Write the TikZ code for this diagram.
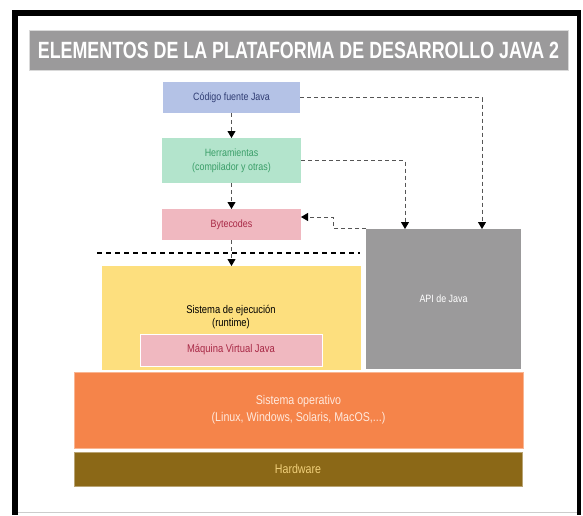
\documentclass[tikz,border=0pt]{standalone}
\usepackage{fontspec}
\setmainfont{Liberation Sans}[FakeStretch=0.84]
\newfontfamily\titlefont{Liberation Sans Bold}[FakeStretch=0.76]
\usetikzlibrary{arrows.meta}
\definecolor{blueF}{HTML}{B4C2E6}
\definecolor{blueT}{HTML}{2F3C73}
\definecolor{greenF}{HTML}{B3E4CC}
\definecolor{greenT}{HTML}{3A9E68}
\definecolor{pinkF}{HTML}{F0B8C0}
\definecolor{pinkT}{HTML}{A82845}
\definecolor{yellowF}{HTML}{FDDF7E}
\definecolor{grayF}{HTML}{9B9A9B}
\definecolor{orangeF}{HTML}{F5844A}
\definecolor{orangeT}{HTML}{FFE9DD}
\definecolor{brownF}{HTML}{8B6817}
\definecolor{brownT}{HTML}{F0CF7A}
\definecolor{lineC}{HTML}{555555}
\tikzset{
  box/.style={anchor=north west, inner sep=0pt, outer sep=0pt, align=center, font=\fontsize{10.6}{14}\selectfont},
  bigtext/.style={font=\fontsize{12.7}{17}\selectfont},
  dsh/.style={draw=lineC, line width=0.9pt, dash pattern=on 4pt off 3pt, -{Triangle[length=7pt,width=8pt,color=black]}},
  sep/.style={draw=black, line width=1.8pt, dash pattern=on 5pt off 4pt},
}
\begin{document}
\begin{tikzpicture}[x=1pt,y=-1pt]
\useasboundingbox (0,0) rectangle (583,515);
\fill[white] (0,0) rectangle (583,515);
% frame
\fill[black] (12,10) rectangle (18,515);
\fill[black] (12,10) rectangle (581,16);
\fill[black] (577,10) rectangle (581,515);
\draw[gray!40, line width=1pt] (18,512) -- (577,512);
% title
\node[box, fill=grayF, draw=gray!30, minimum width=539pt, minimum height=40pt, text=white,
  font=\titlefont\fontsize{23.5}{26}\selectfont] (title) at (29,30) {ELEMENTOS DE LA PLATAFORMA DE DESARROLLO JAVA 2};
% boxes
\node[box, fill=blueF, minimum width=137pt, minimum height=31pt, text=blueT] (code) at (163,82) {Código fuente Java};
\node[box, fill=greenF, minimum width=139pt, minimum height=45pt, text=greenT] (herr) at (162,138) {Herramientas\\(compilador y otras)};
\node[box, fill=pinkF, minimum width=139pt, minimum height=31pt, text=pinkT] (byte) at (162,209) {Bytecodes};
\node[box, fill=yellowF, minimum width=259pt, minimum height=104pt] (rt) at (102,266) {};
\node[box, anchor=center, text=black, font=\fontsize{11.2}{13.5}\selectfont] (rttext) at (231,317) {Sistema de ejecución\\(runtime)};
\node[box, fill=pinkF, draw=white, line width=1pt, minimum width=182pt, minimum height=32pt, text=pinkT, font=\fontsize{11.2}{14}\selectfont] (jvm) at (140,334) {Máquina Virtual Java};
\node[box, fill=grayF, minimum width=155pt, minimum height=140pt, text=white] (api) at (366,229) {API de Java};
\node[box, bigtext, fill=orangeF, draw=orangeF!60!white, line width=0.6pt, minimum width=449pt, minimum height=76pt, text=orangeT] (os) at (74,372) {Sistema operativo\\(Linux, Windows, Solaris, MacOS,...)};
\node[box, bigtext, fill=brownF, draw=brownF!60!white, line width=0.6pt, minimum width=448pt, minimum height=34pt, text=brownT] (hw) at (74,452) {Hardware};
% coordinates
\coordinate (c1) at (482,0);
\coordinate (c2) at (405,0);
\coordinate (bend) at (333,217);
\coordinate (sepL) at (97,253);
\coordinate (sepR) at (360,253);
% connectors
\draw[sep] (sepL) -- (sepR);
\draw[dsh] (code.south) -- (herr.north);
\draw[dsh] (herr.south) -- (byte.north);
\draw[dsh] (byte.south) -- (rt.north);
\draw[dsh] (code.east) -| (api.north -| c1);
\draw[dsh] (herr.east) -| (api.north -| c2);
\draw[dsh] ([yshift=1pt]api.north west) -| (bend) -- (byte.east |- bend);
\end{tikzpicture}
\end{document}
